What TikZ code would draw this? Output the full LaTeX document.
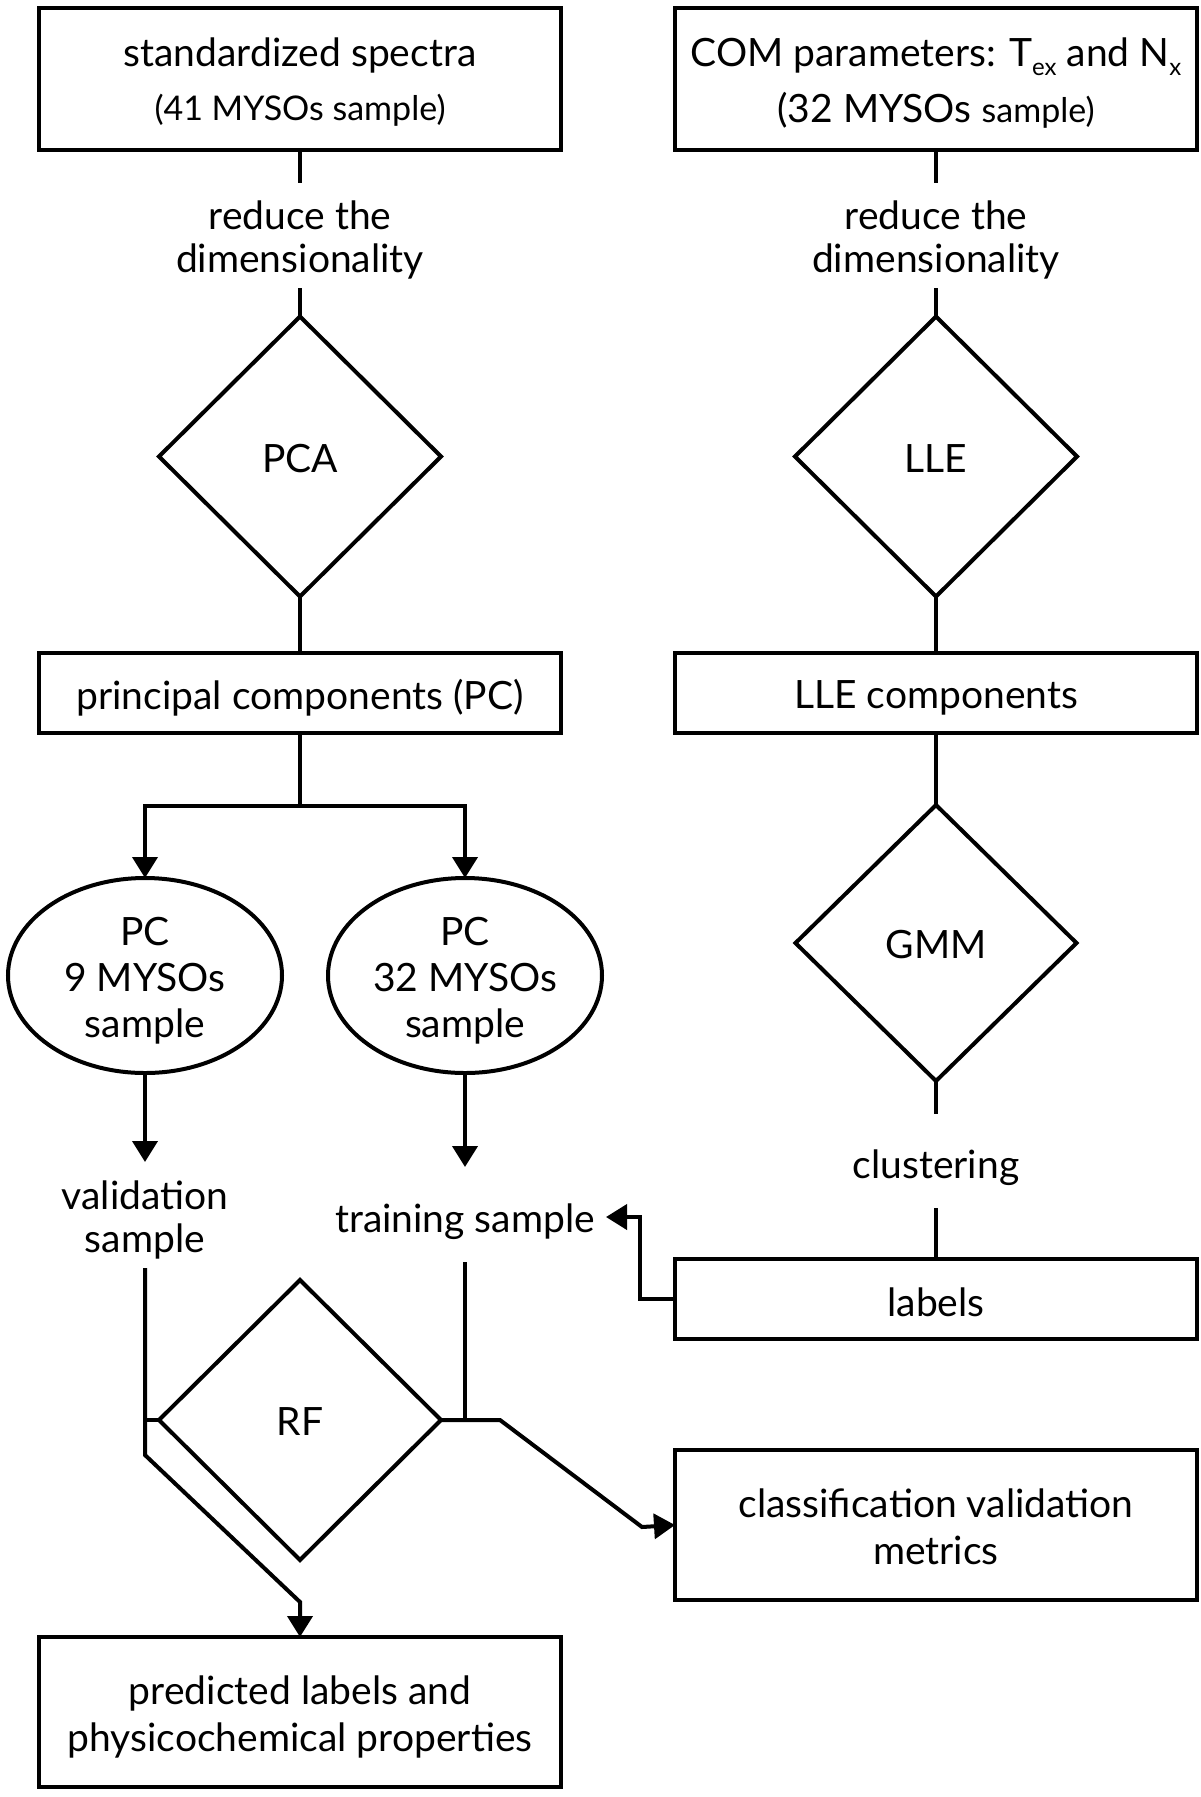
\documentclass[tikz,border=0pt]{standalone}
\usepackage{fontspec}
\setmainfont{Lato}
\usetikzlibrary{shapes.geometric,arrows.meta}
\newcommand\mainfs{\fontsize{39}{45}\selectfont}
\newcommand\smallfs{\fontsize{34}{40}\selectfont}
\newcommand\dn[2]{\raisebox{-#1pt}[\height][\depth]{#2}}
\newcommand\subx[1]{\raisebox{-9pt}[0pt][0pt]{\fontsize{24}{24}\selectfont #1}}
\begin{document}
\begin{tikzpicture}[x=1pt,y=-1pt,
  box/.style={draw, line width=4pt, minimum width=522pt, inner sep=0pt, outer sep=0pt, align=center, font=\mainfs},
  dia/.style={draw, diamond, line width=4pt, minimum width=282pt, minimum height=280pt, inner sep=0pt, outer sep=0pt, font=\mainfs},
  ell/.style={draw, ellipse, line width=4pt, minimum width=274pt, minimum height=195pt, inner sep=0pt, outer sep=0pt, align=center, font=\fontsize{39}{46}\selectfont},
  txt/.style={align=center, inner sep=0pt, font=\mainfs},
  conn/.style={line width=4pt},
  arr/.style={line width=4pt, -{Triangle[length=21pt,width=25pt]}}]
\useasboundingbox (0,0) rectangle (1200,1797);
% left column
\node[box, minimum height=142pt] (spec) at (300,79) {\dn{3}{standardized spectra}\\[8pt]{\smallfs\dn{4}{(41 MYSOs sample)}}};
\node[txt, font=\fontsize{39}{43}\selectfont] (red1) at (300,240) {reduce the\\dimensionality};
\node[dia] (pca) at (300,456.5) {\dn{2}{PCA}};
\node[box, minimum height=80pt] (pcb) at (300,693) {\dn{4.5}{principal components (PC)}};
\node[ell] (e1) at (145,975.5) {\dn{5}{PC}\\\dn{5}{9 MYSOs}\\\dn{5}{sample}};
\node[ell] (e2) at (465,975.5) {\dn{5}{PC}\\\dn{5}{32 MYSOs}\\\dn{5}{sample}};
\node[txt, font=\fontsize{39}{43}\selectfont] (val) at (145,1220) {validation\\sample};
\node[txt] (train) at (465,1221.5) {training sample};
\node[dia] (rf) at (300,1420) {\dn{2}{RF}};
\node[box, minimum height=150pt, font=\fontsize{39}{47}\selectfont] (pred) at (300,1712) {\dn{5}{predicted labels and}\\\dn{5}{physicochemical properties}};
% right column
\node[box, minimum height=142pt] (com) at (936,79) {\dn{3}{COM parameters: T\subx{ex} and N\subx{x}}\\[8pt]\dn{6}{(32 MYSOs {\smallfs sample)}}};
\node[txt, font=\fontsize{39}{43}\selectfont] (red2) at (936,240) {reduce the\\dimensionality};
\node[dia] (lle) at (936,456.5) {\dn{2}{LLE}};
\node[box, minimum height=80pt] (lleb) at (936,693) {\dn{5}{LLE components}};
\node[dia, minimum height=276pt, minimum width=281pt] (gmm) at (936,943) {\dn{2}{GMM}};
\node[txt] (clus) at (936,1167.5) {clustering};
\node[box, minimum height=80pt] (lab) at (936,1299) {\dn{3.5}{labels}};
\node[box, minimum height=150pt, font=\fontsize{39}{47}\selectfont] (cls) at (936,1525) {\dn{2}{classification validation}\\\dn{2}{metrics}};
% coordinates
\coordinate (a1) at (300,183);
\coordinate (a2) at (300,288);
\coordinate (b1) at (936,183);
\coordinate (b2) at (936,288);
\coordinate (br) at (300,806);
\coordinate (brl) at (145,806);
\coordinate (brr) at (465,806);
\coordinate (v1) at (145,1162);
\coordinate (t1) at (465,1167);
\coordinate (v2) at (145,1268);
\coordinate (v3) at (145,1455);
\coordinate (v4) at (300,1602);
\coordinate (vs) at (145,1420);
\coordinate (t2) at (465,1262);
\coordinate (t3) at (465,1420);
\coordinate (r1) at (500,1420);
\coordinate (r2) at (642,1527);
\coordinate (g1) at (936,1114);
\coordinate (g2) at (936,1208);
\coordinate (l1) at (640,1299);
\coordinate (l2) at (640,1217);
\coordinate (l3) at (606,1217);
% connectors
\draw[conn] (spec.south) -- (a1);
\draw[conn] (a2) -- (pca.north);
\draw[conn] (pca.south) -- (pcb.north);
\draw[conn] (pcb.south) -- (br);
\draw[arr] (br) -- (brl) -- (e1.north);
\draw[arr] (br) -- (brr) -- (e2.north);
\draw[arr] (e1.south) -- (v1);
\draw[arr] (e2.south) -- (t1);
\draw[arr] (v2) -- (v3) -- (v4) -- (pred.north);
\draw[conn] (vs) -- (rf.west);
\draw[conn] (t2) -- (t3);
\draw[arr] (rf.east) -- (r1) -- (r2) -- (cls.west);
\draw[conn] (com.south) -- (b1);
\draw[conn] (b2) -- (lle.north);
\draw[conn] (lle.south) -- (lleb.north);
\draw[conn] (lleb.south) -- (gmm.north);
\draw[conn] (gmm.south) -- (g1);
\draw[conn] (g2) -- (lab.north);
\draw[arr] (lab.west) -- (l1) -- (l2) -- (l3);
\end{tikzpicture}
\end{document}
